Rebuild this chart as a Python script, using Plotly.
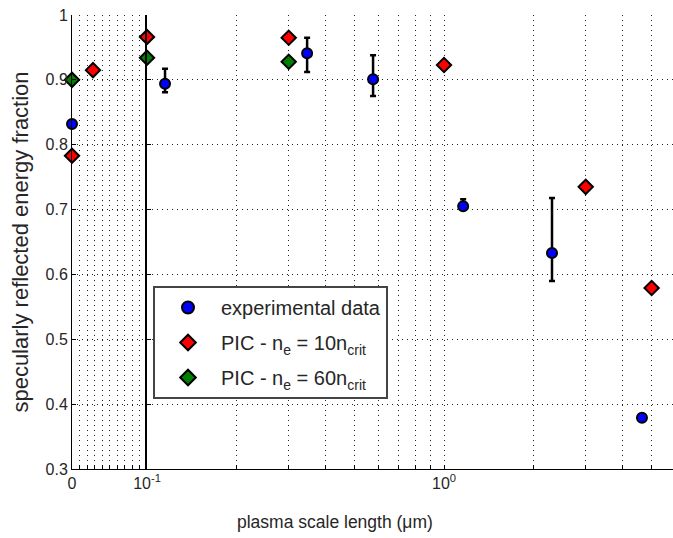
import plotly.graph_objects as go

# Experimental data
exp_x = [0.0, 0.115, 0.346, 0.577, 1.16, 2.31, 4.64]
exp_y = [0.832, 0.894, 0.941, 0.901, 0.705, 0.633, 0.379]
exp_up = [0.0, 0.023, 0.024, 0.037, 0.011, 0.085, 0.0]
exp_dn = [0.0, 0.013, 0.029, 0.026, 0.005, 0.043, 0.0]

# PIC ne = 10 ncrit
pic10_x = [0.0, 0.028, 0.1, 0.3, 1.0, 3.0, 5.0]
pic10_y = [0.783, 0.915, 0.966, 0.965, 0.923, 0.735, 0.579]

# PIC ne = 60 ncrit
pic60_x = [0.0, 0.1, 0.3]
pic60_y = [0.900, 0.934, 0.928]

yticks = [0.3, 0.4, 0.5, 0.6, 0.7, 0.8, 0.9, 1.0]
ytick_text = ["0.3", "0.4", "0.5", "0.6", "0.7", "0.8", "0.9", "1"]
lin_ticks = [0.0, 0.01, 0.02, 0.03, 0.04, 0.05, 0.06, 0.07, 0.08, 0.09]
log_ticks = [0.1, 0.2, 0.3, 0.4, 0.5, 0.6, 0.7, 0.8, 0.9, 1, 2, 3, 4, 5]
log_text = ["10<sup>-1</sup>"] + [""] * 8 + ["10<sup>0</sup>"] + [""] * 4

LIN_MAX = 0.1
W, H = 673, 538
ML, MR, MT, MB = 72, 0, 15, 69
PW = W - ML - MR
PH = H - MT - MB
split = 75 / PW

fig = go.Figure()
font = "Liberation Sans, Arial, sans-serif"
txtc = "#262626"

def add_series(xs, ys, name, symbol, color, size, up=None, dn=None):
    lin = [i for i, x in enumerate(xs) if x < LIN_MAX]
    lg = [i for i, x in enumerate(xs) if x >= LIN_MAX]
    for idx, xa, ya, show in ((lin, "x", "y", True), (lg, "x2", "y2", False)):
        if not idx:
            continue
        kw = {}
        if up is not None:
            kw["error_y"] = dict(type="data", symmetric=False,
                                 array=[up[i] for i in idx],
                                 arrayminus=[dn[i] for i in idx],
                                 color="black", thickness=2.5, width=3)
        fig.add_trace(go.Scatter(
            x=[xs[i] for i in idx], y=[ys[i] for i in idx],
            mode="markers", name=name, legendgroup=name, showlegend=show,
            xaxis=xa, yaxis=ya, cliponaxis=False,
            marker=dict(symbol=symbol, color=color, size=size,
                        line=dict(color="black", width=2)),
            **kw))

add_series(exp_x, exp_y, "experimental data", "circle", "#0000ff", 10, exp_up, exp_dn)
add_series(pic10_x, pic10_y, "PIC - n<sub>e</sub> = 10n<sub>crit</sub>", "diamond", "#ff0000", 11)
add_series(pic60_x, pic60_y, "PIC - n<sub>e</sub> = 60n<sub>crit</sub>", "diamond", "#008000", 11)

grid = dict(showgrid=True, gridcolor="#222", gridwidth=1, griddash="1px,4px")

fig.update_layout(
    width=W, height=H,
    margin=dict(l=ML, r=MR, t=MT, b=MB, autoexpand=False),
    paper_bgcolor="white", plot_bgcolor="white",
    font=dict(family=font, size=16, color=txtc),
    showlegend=True,
    legend=dict(x=(153 - ML) / PW, y=(469 - 286) / PH,
                xanchor="left", yanchor="top",
                bgcolor="white", bordercolor="#444", borderwidth=2,
                font=dict(family=font, size=20, color=txtc),
                itemsizing="constant", itemwidth=56, tracegroupgap=6),
    xaxis=dict(domain=[0, split], range=[0, LIN_MAX], tickvals=lin_ticks,
               ticktext=["0"] + [""] * 9, ticks="inside", ticklen=4,
               tickcolor="black", showline=True, linecolor="black",
               linewidth=1, zeroline=False, anchor="y", automargin=False,
               **grid),
    xaxis2=dict(domain=[split, 1], type="log", range=[-1, 0.771],
                tickvals=log_ticks, ticktext=log_text, ticks="inside",
                ticklen=4, tickcolor="black", showline=True,
                linecolor="black", linewidth=1, zeroline=False,
                anchor="y2", automargin=False, **grid),
    yaxis=dict(range=[0.3, 1.0], tickvals=yticks, ticktext=ytick_text,
               ticks="inside", ticklen=4, tickcolor="black", showline=True,
               linecolor="black", linewidth=1, zeroline=False, anchor="x",
               automargin=False,
               title=dict(text="specularly reflected energy fraction",
                          font=dict(size=22, color=txtc), standoff=10),
               **grid),
    yaxis2=dict(range=[0.3, 1.0], tickvals=yticks, showticklabels=False,
                ticks="inside", ticklen=4, tickcolor="black", showline=True,
                linecolor="black", linewidth=1.5, zeroline=False,
                anchor="x2", automargin=False, **grid),
)

fig.add_annotation(text="plasma scale length (\u03bcm)", xref="paper", yref="paper",
                   x=(335 - ML) / PW, y=-(522 - 469) / PH,
                   xanchor="center", yanchor="middle", showarrow=False,
                   font=dict(family=font, size=17.5, color=txtc))

fig.write_html("out.html", config={"displayModeBar": False},
               post_script="document.body.style.margin='0';document.body.style.overflow='hidden';")
